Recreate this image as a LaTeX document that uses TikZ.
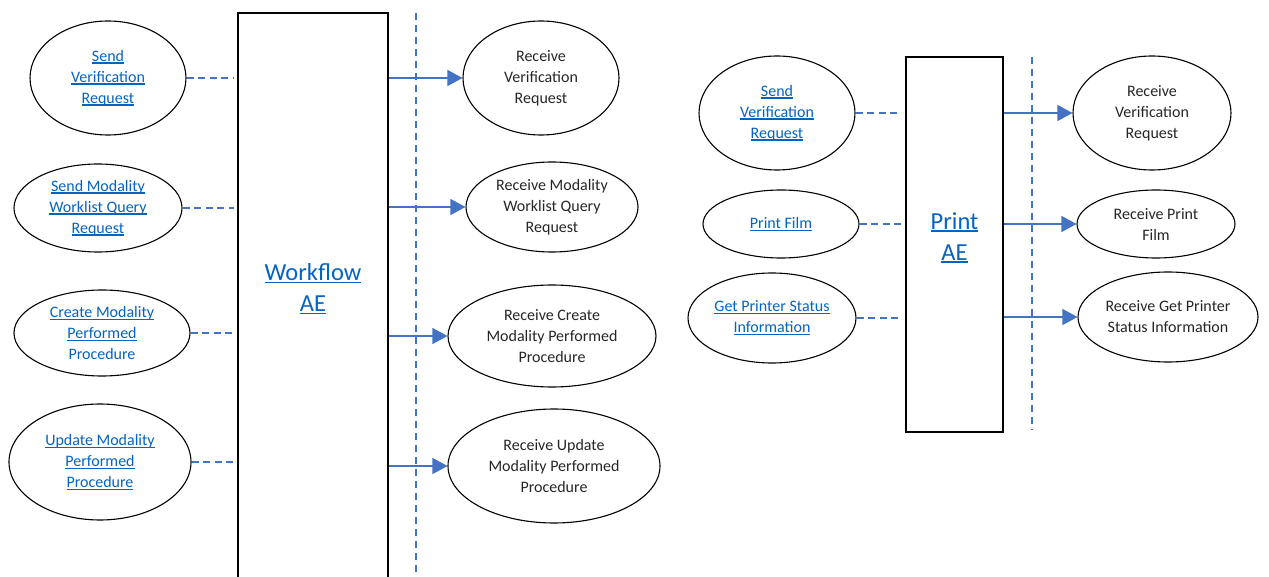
\documentclass[tikz,border=0pt]{standalone}
\usepackage{fontspec}
\setmainfont{Carlito}
\usetikzlibrary{shapes.geometric,arrows.meta}
\definecolor{linkblue}{HTML}{0563C1}
\definecolor{lineblue}{HTML}{4472C4}
\newsavebox{\lkbox}
\newcommand{\lk}[1]{\leavevmode\sbox{\lkbox}{#1}\rlap{\rule[-2.4pt]{\wd\lkbox}{1.2pt}}\usebox{\lkbox}}
\tikzset{
  usecase/.style={ellipse, draw=black, line width=1.1pt, inner sep=0pt, align=center,
    font=\fontsize{16}{21}\selectfont, text=black!85},
  linktext/.style={text=linkblue},
  aebox/.style={draw=black, line width=1.6pt, rectangle, inner sep=0pt},
  aelabel/.style={text=linkblue, align=center, font=\fontsize{24.5}{31}\selectfont},
  assoc/.style={draw=lineblue, line width=1.2pt, dash pattern=on 7pt off 4.5pt},
  flow/.style={draw=lineblue, line width=1.2pt, -{Triangle[length=15pt,width=16pt]}},
  boundary/.style={draw=lineblue, line width=2pt, dash pattern=on 7pt off 5pt},
}
\begin{document}
\begin{tikzpicture}[x=1pt,y=-1pt]
\path[use as bounding box] (0,0) rectangle (1269,577);
\clip (0,0) rectangle (1269,577);

% ---------- Workflow AE ----------
\coordinate (b1top) at (416,13);
\coordinate (b1bot) at (416,577);
\draw[boundary] (b1top) -- (b1bot);

\node[aebox, minimum width=150, minimum height=587] (wf) at (313,306.5) {};
\node[aelabel] (wflabel) at (313,289) {\lk{Workflow}\\\lk{AE}};

\node[usecase, linktext, minimum width=156, minimum height=114] (sv1) at (108,78)
  {\lk{Send}\\\lk{Verification}\\\lk{Request}};
\node[usecase, linktext, minimum width=168, minimum height=88] (sm) at (98,208)
  {\lk{Send Modality}\\\lk{Worklist Query}\\\lk{Request}};
\node[usecase, linktext, minimum width=176, minimum height=86] (cm) at (102,333)
  {\lk{Create Modality}\\\lk{Performed}\\Procedure};
\node[usecase, linktext, minimum width=182, minimum height=116] (um) at (100,462)
  {\lk{Update Modality}\\\lk{Performed}\\\lk{Procedure}};

\node[usecase, minimum width=156, minimum height=114] (rv1) at (541,78)
  {Receive\\Verification\\Request};
\node[usecase, minimum width=172, minimum height=90] (rm) at (552,207)
  {Receive Modality\\Worklist Query\\Request};
\node[usecase, minimum width=208, minimum height=102] (rc) at (552,336)
  {Receive Create\\Modality Performed\\Procedure};
\node[usecase, minimum width=212, minimum height=114] (ru) at (554,466)
  {Receive Update\\Modality Performed\\Procedure};

\foreach \n in {sv1,sm,cm,um}
  \draw[assoc] (\n.east) -- ([xshift=-3pt]\n.east -| wf.west);
\foreach \n in {rv1,rm,rc,ru}
  \draw[flow] (wf.east |- \n.west) -- (\n.west);

% ---------- Print AE ----------
\coordinate (b2top) at (1032,57);
\coordinate (b2bot) at (1032,430);
\draw[boundary] (b2top) -- (b2bot);

\node[aebox, minimum width=97, minimum height=375] (pb) at (954.5,244.5) {};
\node[aelabel] (pblabel) at (954.5,237.5) {\lk{Print}\\\lk{AE}};

\node[usecase, linktext, minimum width=156, minimum height=114] (psv) at (777,113)
  {\lk{Send}\\\lk{Verification}\\\lk{Request}};
\node[usecase, linktext, minimum width=156, minimum height=68] (pf) at (781,224)
  {\lk{Print Film}};
\node[usecase, linktext, minimum width=168, minimum height=90] (pg) at (772,318)
  {\lk{Get Printer Status}\\\lk{Information}};

\node[usecase, minimum width=158, minimum height=114] (prv) at (1152,113)
  {Receive\\Verification\\Request};
\node[usecase, minimum width=158, minimum height=68] (prf) at (1156,224)
  {Receive Print\\Film};
\node[usecase, minimum width=180, minimum height=90] (prg) at (1168,317)
  {Receive Get Printer\\Status Information};

\foreach \n in {psv,pf,pg}
  \draw[assoc] (\n.east) -- ([xshift=-4pt]\n.east -| pb.west);
\foreach \n in {prv,prf,prg}
  \draw[flow] (pb.east |- \n.west) -- (\n.west);
\end{tikzpicture}
\end{document}
